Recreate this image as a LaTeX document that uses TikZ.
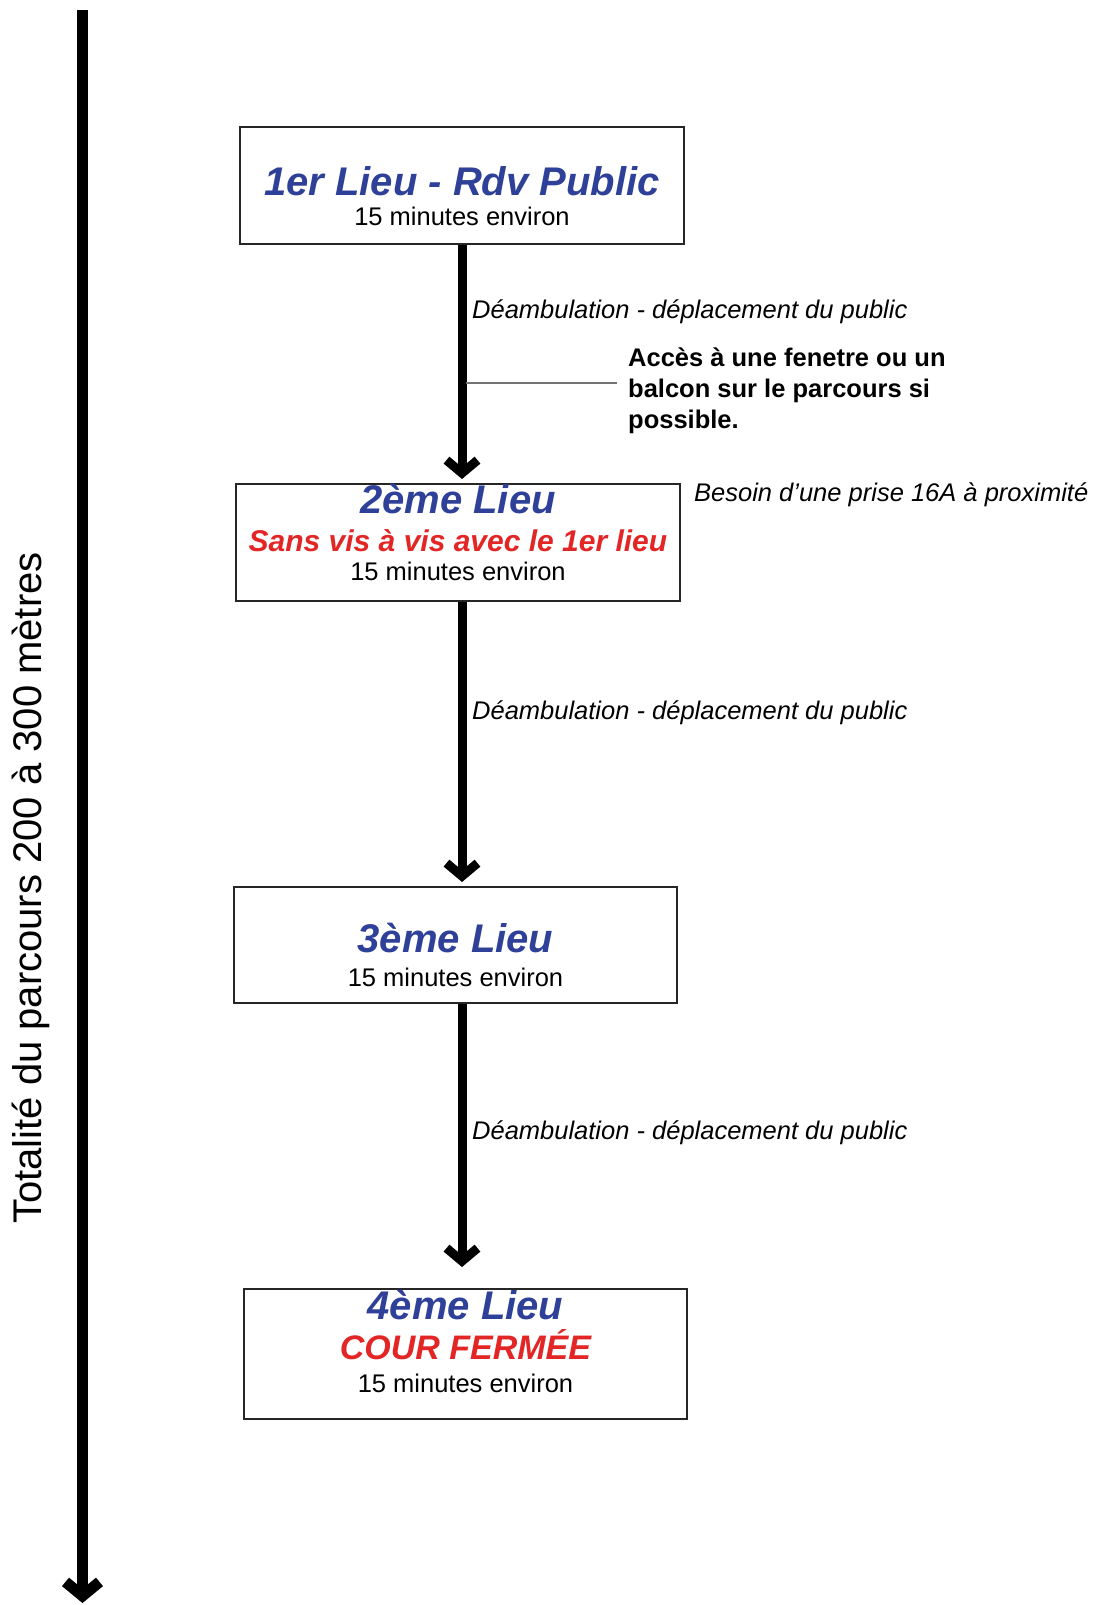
\documentclass[tikz,border=0pt]{standalone}
\usepackage{fontspec}
\setmainfont{Liberation Sans}
\usetikzlibrary{arrows.meta,calc}

\definecolor{bleulieu}{RGB}{46,64,152}
\definecolor{rougelieu}{RGB}{226,38,38}

\tikzset{
    lieu/.style={draw=black!85, line width=2pt, inner sep=0pt},
    titre/.style={anchor=base, inner sep=0pt, color=bleulieu, font=\fontsize{40}{48}\selectfont\bfseries\itshape},
    remarque/.style={anchor=base, inner sep=0pt, color=rougelieu, font=\fontsize{30}{36}\selectfont\bfseries\itshape},
    duree/.style={anchor=base, inner sep=0pt, font=\fontsize{25.5}{31}\selectfont},
    trajet/.style={anchor=base west, inner sep=0pt, font=\fontsize{25.5}{31}\selectfont\itshape},
    fleche/.style={line width=9pt, -{Straight Barb[length=13pt,width=31pt]}},
    axe/.style={line width=11pt, -{Straight Barb[length=14pt,width=34pt]}}
}

\begin{document}
\begin{tikzpicture}[x=1pt, y=-1pt]

                \useasboundingbox (0,0) rectangle (1094,1605);

                % axe du parcours
                \coordinate (depart) at (82.5,10);
                \coordinate (arrivee) at (82.5,1603);
                \draw[axe] (depart) -- (arrivee);
                \node[rotate=90, inner sep=0pt, font=\fontsize{40}{48}\selectfont] (parcours) at (31,888) {Totalité du parcours 200 à 300 mètres};

                % les lieux
                \node[lieu, minimum width=444pt, minimum height=117pt] (lieu1) at (462,185.5) {};
                \node[titre] (titre1) at ($(lieu1.center)+(0,10)$) {1er Lieu - Rdv Public};
                \node[duree] (duree1) at ($(lieu1.center)+(0,40.5)$) {15 minutes environ};

                \node[lieu, minimum width=444pt, minimum height=117pt] (lieu2) at (458,542.5) {};
                \node[titre] (titre2) at ($(lieu2.center)+(0,-29)$) {2ème Lieu};
                \node[remarque] (remarque2) at ($(lieu2.center)+(0,8.5)$) {Sans vis à vis avec le 1er lieu};
                \node[duree] (duree2) at ($(lieu2.center)+(0,37.5)$) {15 minutes environ};

                \node[lieu, minimum width=443pt, minimum height=116pt] (lieu3) at (455.5,945) {};
                \node[titre] (titre3) at ($(lieu3.center)+(0,7.5)$) {3ème Lieu};
                \node[duree] (duree3) at ($(lieu3.center)+(0,41)$) {15 minutes environ};

                \node[lieu, minimum width=443pt, minimum height=130pt] (lieu4) at (465.5,1354) {};
                \node[titre] (titre4) at ($(lieu4.center)+(0,-34.5)$) {4ème Lieu};
                \node[remarque, font=\fontsize{34}{40}\selectfont\bfseries\itshape] (remarque4) at ($(lieu4.center)+(0,5)$) {COUR FERMÉE};
                \node[duree] (duree4) at ($(lieu4.center)+(0,38)$) {15 minutes environ};

                % deplacements
                \draw[fleche, shorten >=4pt] (lieu1.south) -- (lieu1.south |- lieu2.north);
                \draw[fleche, shorten >=4pt] (lieu2.south -| lieu1.south) -- (lieu3.north -| lieu1.south);
                \draw[fleche, shorten >=21pt] (lieu3.south -| lieu1.south) -- (lieu4.north -| lieu1.south);

                \node[trajet] (trajet1) at (472,318) {Déambulation - déplacement du public};
                \node[trajet] (trajet2) at (472,719) {Déambulation - déplacement du public};
                \node[trajet] (trajet3) at (472,1139) {Déambulation - déplacement du public};

                \node[anchor=west, align=left, inner sep=0pt, font=\fontsize{25.5}{31}\selectfont\bfseries] (acces) at (628,391) {Accès à une fenetre ou un\\balcon sur le parcours si\\possible.};
                \coordinate (renvoi) at (466,383);
                \draw[line width=1.3pt, color=black!55, shorten >=11pt] (renvoi) -- (renvoi -| acces.west);

                \node[trajet] (prise) at (694,501) {Besoin d’une prise 16A à proximité};
            \end{tikzpicture}
\end{document}
